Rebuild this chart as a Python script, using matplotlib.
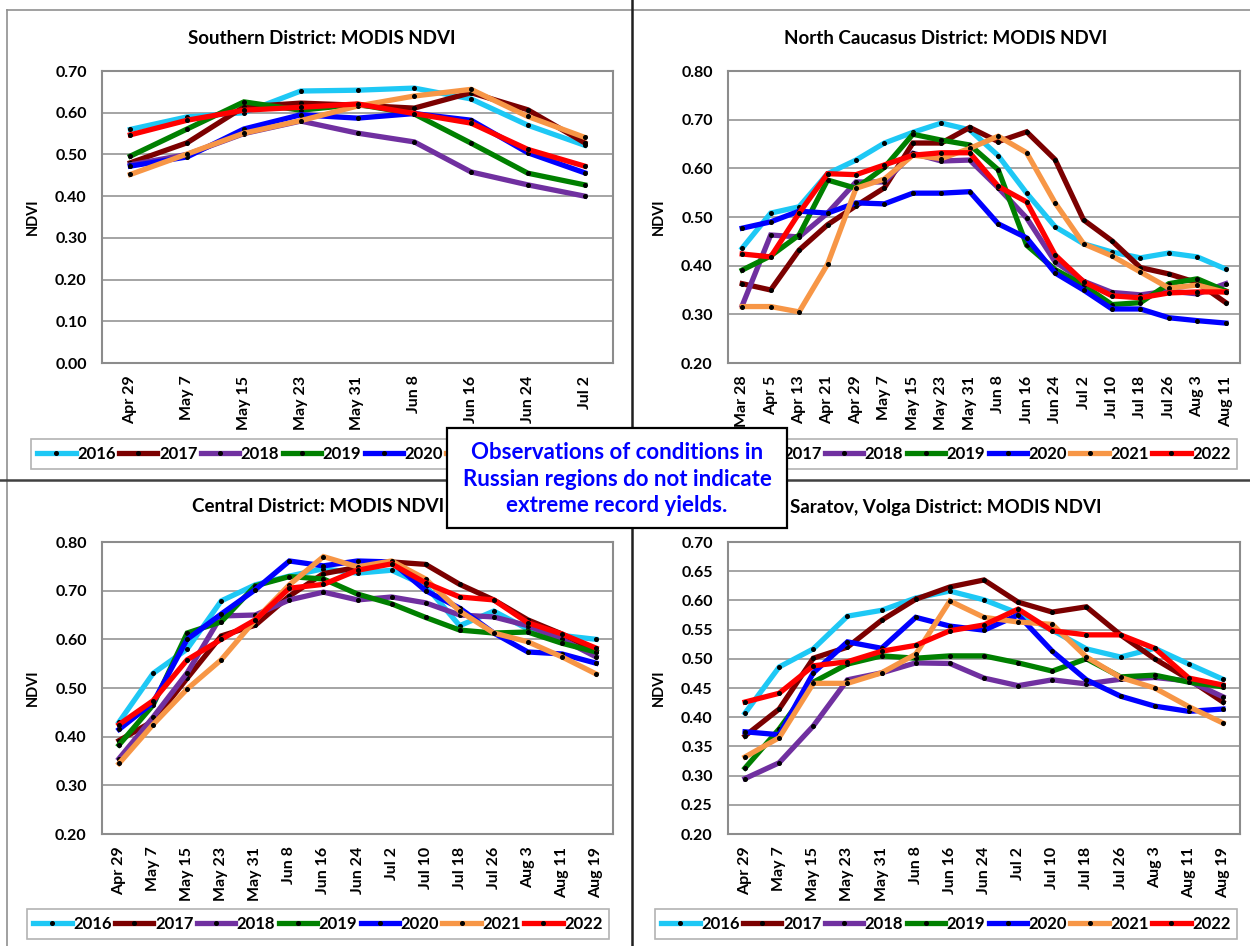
import matplotlib
matplotlib.use("Agg")
import matplotlib.pyplot as plt
from matplotlib.lines import Line2D
from matplotlib.patches import Rectangle
import numpy as np

plt.rcParams['font.family'] = ['Lato', 'DejaVu Sans']
plt.rcParams['font.weight'] = 'bold'

years = ['2016', '2017', '2018', '2019', '2020', '2021', '2022']
colors = ['#1EC8F5', '#7B0000', '#7030A0', '#008000', '#0000FF', '#F79646', '#FF0000']

# Southern District
south_dates = ['Apr 29', 'May 7', 'May 15', 'May 23', 'May 31', 'Jun 8', 'Jun 16', 'Jun 24', 'Jul 2']
south = {
    '2016': [0.560, 0.590, 0.600, 0.652, 0.654, 0.659, 0.633, 0.570, 0.522],
    '2017': [0.480, 0.528, 0.614, 0.623, 0.618, 0.611, 0.648, 0.607, 0.528],
    '2018': [0.475, 0.500, 0.550, 0.580, 0.551, 0.530, 0.458, 0.427, 0.400],
    '2019': [0.496, 0.561, 0.626, 0.606, 0.620, 0.597, 0.527, 0.455, 0.427],
    '2020': [0.472, 0.494, 0.561, 0.595, 0.587, 0.598, 0.582, 0.504, 0.456],
    '2021': [0.452, 0.501, 0.551, 0.581, 0.616, 0.640, 0.656, 0.591, 0.541],
    '2022': [0.547, 0.582, 0.606, 0.613, 0.621, 0.598, 0.575, 0.512, 0.472],
}

# North Caucasus District
nc_dates = ['Mar 28', 'Apr 5', 'Apr 13', 'Apr 21', 'Apr 29', 'May 7', 'May 15', 'May 23', 'May 31',
            'Jun 8', 'Jun 16', 'Jun 24', 'Jul 2', 'Jul 10', 'Jul 18', 'Jul 26', 'Aug 3', 'Aug 11']
ncauc = {
    '2016': [0.436, 0.508, 0.521, 0.589, 0.617, 0.652, 0.674, 0.693, 0.679, 0.626, 0.549, 0.480,
             0.445, 0.428, 0.416, 0.426, 0.418, 0.393],
    '2017': [0.363, 0.350, 0.432, 0.484, 0.523, 0.560, 0.652, 0.652, 0.684, 0.655, 0.675, 0.618,
             0.494, 0.451, 0.396, 0.383, 0.365, 0.324],
    '2018': [0.318, 0.463, 0.459, 0.508, 0.572, 0.572, 0.631, 0.615, 0.617, 0.560, 0.498, 0.408,
             0.368, 0.345, 0.340, 0.348, 0.342, 0.363],
    '2019': [0.391, 0.420, 0.463, 0.576, 0.559, 0.602, 0.670, 0.658, 0.648, 0.597, 0.442, 0.392,
             0.360, 0.320, 0.324, 0.363, 0.373, 0.348],
    '2020': [0.477, 0.490, 0.512, 0.508, 0.529, 0.527, 0.549, 0.549, 0.552, 0.486, 0.457, 0.385,
             0.350, 0.311, 0.311, 0.293, 0.287, 0.282],
    '2021': [0.316, 0.316, 0.305, 0.403, 0.559, 0.578, 0.627, 0.620, 0.641, 0.666, 0.632, 0.529,
             0.445, 0.420, 0.387, 0.354, 0.360, 0.345],
    '2022': [0.424, 0.418, 0.508, 0.589, 0.587, 0.607, 0.627, 0.632, 0.632, 0.563, 0.531, 0.422,
             0.367, 0.338, 0.334, 0.344, 0.346, 0.346],
}

# Central District and Saratov share the dates
late_dates = ['Apr 29', 'May 7', 'May 15', 'May 23', 'May 31', 'Jun 8', 'Jun 16', 'Jun 24', 'Jul 2',
              'Jul 10', 'Jul 18', 'Jul 26', 'Aug 3', 'Aug 11', 'Aug 19']
central = {
    '2016': [0.430, 0.530, 0.580, 0.679, 0.712, 0.730, 0.745, 0.736, 0.742, 0.710, 0.628, 0.658,
             0.621, 0.608, 0.600],
    '2017': [0.392, 0.432, 0.520, 0.607, 0.629, 0.689, 0.735, 0.748, 0.759, 0.754, 0.713, 0.681,
             0.640, 0.611, 0.575],
    '2018': [0.355, 0.440, 0.531, 0.648, 0.650, 0.681, 0.697, 0.681, 0.687, 0.675, 0.650, 0.646,
             0.628, 0.600, 0.564],
    '2019': [0.383, 0.465, 0.613, 0.636, 0.710, 0.729, 0.724, 0.693, 0.673, 0.645, 0.619, 0.613,
             0.615, 0.592, 0.574],
    '2020': [0.415, 0.470, 0.600, 0.652, 0.702, 0.761, 0.751, 0.761, 0.759, 0.700, 0.664, 0.613,
             0.574, 0.570, 0.551],
    '2021': [0.345, 0.425, 0.498, 0.558, 0.640, 0.712, 0.770, 0.749, 0.761, 0.724, 0.658, 0.613,
             0.595, 0.564, 0.529],
    '2022': [0.425, 0.474, 0.558, 0.600, 0.640, 0.705, 0.713, 0.742, 0.755, 0.716, 0.687, 0.681,
             0.634, 0.611, 0.582],
}
saratov = {
    '2016': [0.407, 0.486, 0.517, 0.573, 0.583, 0.604, 0.616, 0.601, 0.578, 0.549, 0.517, 0.503,
             0.518, 0.491, 0.465],
    '2017': [0.368, 0.414, 0.501, 0.520, 0.566, 0.602, 0.623, 0.635, 0.597, 0.580, 0.589, 0.541,
             0.500, 0.465, 0.426],
    '2018': [0.295, 0.322, 0.385, 0.464, 0.476, 0.493, 0.492, 0.467, 0.454, 0.464, 0.457, 0.465,
             0.468, 0.462, 0.435],
    '2019': [0.313, 0.380, 0.460, 0.491, 0.505, 0.501, 0.505, 0.505, 0.493, 0.479, 0.500, 0.469,
             0.472, 0.460, 0.452],
    '2020': [0.375, 0.370, 0.476, 0.529, 0.518, 0.571, 0.556, 0.549, 0.575, 0.513, 0.464, 0.436,
             0.419, 0.410, 0.414],
    '2021': [0.332, 0.365, 0.458, 0.458, 0.476, 0.508, 0.599, 0.571, 0.563, 0.559, 0.503, 0.468,
             0.450, 0.418, 0.390],
    '2022': [0.426, 0.441, 0.488, 0.495, 0.513, 0.523, 0.548, 0.558, 0.585, 0.548, 0.541, 0.541,
             0.518, 0.467, 0.455],
}

W, H = 1250, 946
fig = plt.figure(figsize=(W / 100, H / 100), dpi=100)


def rect(l, t, r, b):
    return [l / W, 1 - b / H, (r - l) / W, (b - t) / H]


panels = [
    ('Southern District: MODIS NDVI', south_dates, south, 0.0, 0.7, 0.1, (102, 71, 613, 363), 322, 38, 454),
    ('North Caucasus District: MODIS NDVI', nc_dates, ncauc, 0.2, 0.8, 0.1, (728, 71, 1240, 363), 946, 38, 454),
    ('Central District: MODIS NDVI', late_dates, central, 0.2, 0.8, 0.1, (102, 542, 613, 834), 318, 507, 924),
    ('Saratov, Volga District: MODIS NDVI', late_dates, saratov, 0.2, 0.7, 0.05, (728, 542, 1240, 834), 946, 507, 924),
]

for title, dates, data, y0, y1, step, box, cx, ty, ly in panels:
    ax = fig.add_axes(rect(*box))
    x = np.arange(len(dates))
    for yr, c in zip(years, colors):
        ax.plot(x, data[yr], color=c, lw=3.8, marker='o', ms=2.6,
                mfc='black', mec='black', label=yr, solid_joinstyle='miter')
    ax.set_xlim(-0.5, len(dates) - 0.5)
    ax.set_ylim(y0, y1)
    ax.set_yticks(np.arange(y0, y1 + step / 2, step))
    ax.yaxis.set_major_formatter(matplotlib.ticker.FormatStrFormatter('%.2f'))
    ax.set_xticks(x)
    ax.set_xticklabels(dates, rotation=90)
    ax.tick_params(axis='both', length=0, labelsize=11.5)
    ax.tick_params(axis='y', pad=11)
    ax.tick_params(axis='x', pad=9)
    ax.grid(axis='y', color='#8c8c8c', lw=1.1)
    ax.set_axisbelow(True)
    for s in ax.spines.values():
        s.set_color('#8c8c8c')
        s.set_linewidth(1.5)
    ax.set_ylabel('NDVI', fontsize=10.5, fontweight='bold')
    ax.yaxis.set_label_coords(-62 / 511, 0.5)
    fig.text(cx / W, 1 - ty / H, title, ha='center', va='center', fontsize=13.5, fontweight='bold')
    leg = ax.legend(loc='center', bbox_to_anchor=(cx / W, 1 - ly / H), bbox_transform=fig.transFigure,
                    ncol=7, numpoints=1, fontsize=12, handlelength=2.3, handletextpad=0.1,
                    columnspacing=0.2, frameon=True, fancybox=False, borderpad=0.4,
                    borderaxespad=0)
    leg.get_frame().set_edgecolor('#a0a0a0')
    leg.get_frame().set_linewidth(1.2)
    for t in leg.get_texts():
        t.set_fontweight('bold')

# panel frames and dividers
fig.add_artist(Line2D([7 / W, 1], [1 - 10 / H, 1 - 10 / H], color='#909090', lw=1.2))
fig.add_artist(Line2D([7 / W, 7 / W], [0, 1 - 10 / H], color='#909090', lw=1.2))
fig.add_artist(Line2D([632 / W, 632 / W], [0, 1], color='#202020', lw=1.8))
fig.add_artist(Line2D([0, 1], [1 - 480 / H, 1 - 480 / H], color='#404040', lw=1.8))

# note box
fig.add_artist(Rectangle((447 / W, 1 - 528 / H), 340 / W, 100 / H, transform=fig.transFigure,
                         facecolor='white', edgecolor='black', lw=1.6, zorder=5))
fig.text(617 / W, 1 - 479 / H, 'Observations of conditions in\nRussian regions do not indicate\nextreme record yields.',
         ha='center', va='center', color='#0000FF', fontsize=16, fontweight='bold',
         linespacing=1.3, zorder=6)

fig.savefig('out.png', dpi=100)
